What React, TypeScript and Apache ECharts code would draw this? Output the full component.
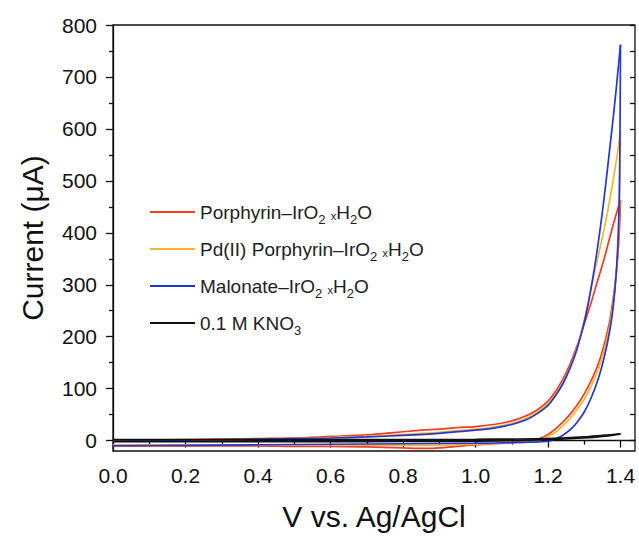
import React, { useEffect, useRef } from "react";
import * as echarts from "echarts";

type Pt = [number, number];

const legendNames = [
  "Porphyrin–IrO2 xH2O",
  "Pd(II) Porphyrin–IrO2 xH2O",
  "Malonate–IrO2 xH2O",
  "0.1 M KNO3",
];
const lineColors = ["#f23c22", "#f5b62c", "#2436d6", "#111111"];

// Cyclic voltammograms, [potential V vs. Ag/AgCl, current µA]
// anodic sweep 0 → 1.4 V
const porphyrinForward: Pt[] = [
  [0, -9], [0.1, -10], [0.2, -10], [0.3, -10], [0.4, -10], [0.5, -11], [0.6, -11],
  [0.7, -12], [0.8, -14], [0.86, -15], [0.9, -14], [0.95, -11], [1.0, -8], [1.05, -6],
  [1.1, -4], [1.15, 0], [1.18, 5], [1.2, 12], [1.22, 22], [1.24, 35], [1.26, 50],
  [1.28, 68], [1.3, 90], [1.32, 117], [1.34, 150], [1.355, 185], [1.37, 230],
  [1.38, 275], [1.388, 320], [1.394, 370], [1.398, 420], [1.4, 463],
];
// cathodic sweep 1.4 → 0 V
const porphyrinReverse: Pt[] = [
  [1.4, 463], [1.385, 428], [1.37, 390], [1.355, 350], [1.34, 315], [1.33, 292],
  [1.32, 268], [1.31, 246], [1.3, 224], [1.28, 182], [1.26, 146], [1.24, 117],
  [1.22, 94], [1.2, 76], [1.17, 59], [1.14, 48], [1.1, 38], [1.05, 31], [1.0, 27],
  [0.95, 25], [0.9, 22], [0.85, 20], [0.8, 17], [0.75, 14], [0.7, 11], [0.6, 8],
  [0.5, 5], [0.4, 4], [0.3, 3], [0.2, 2], [0.1, 1], [0, 0],
];

const pdForward: Pt[] = [
  [0, -8], [0.2, -8], [0.4, -8], [0.6, -8], [0.8, -9], [0.9, -9], [1.0, -7],
  [1.1, -4], [1.15, -2], [1.18, 2], [1.2, 8], [1.22, 16], [1.24, 28], [1.26, 42],
  [1.28, 60], [1.3, 80], [1.32, 106], [1.34, 140], [1.355, 175], [1.37, 220],
  [1.38, 265], [1.388, 320], [1.394, 390], [1.398, 470], [1.4, 595],
];
const pdReverse: Pt[] = [
  [1.4, 595], [1.39, 545], [1.38, 502], [1.37, 462], [1.36, 425], [1.35, 392],
  [1.34, 360], [1.33, 330], [1.32, 298], [1.31, 264], [1.3, 232], [1.28, 178],
  [1.26, 140], [1.24, 110], [1.22, 88], [1.2, 71], [1.17, 54], [1.14, 43],
  [1.1, 33], [1.05, 26], [1.0, 22], [0.9, 16], [0.8, 12], [0.7, 8], [0.6, 6],
  [0.5, 4], [0.4, 3], [0.3, 2], [0.2, 1], [0.1, 0], [0, -1],
];

const malonateForward: Pt[] = [
  [0, -10], [0.2, -9], [0.4, -8], [0.6, -7], [0.8, -6], [1.0, -5], [1.1, -4],
  [1.15, -3], [1.2, -1], [1.22, 3], [1.24, 10], [1.26, 20], [1.28, 35], [1.3, 55],
  [1.32, 84], [1.34, 122], [1.355, 160], [1.37, 210], [1.38, 258], [1.388, 320],
  [1.394, 400], [1.398, 540], [1.4, 762],
];
const malonateReverse: Pt[] = [
  [1.4, 762], [1.39, 690], [1.38, 622], [1.37, 560], [1.36, 498], [1.35, 440],
  [1.34, 388], [1.33, 340], [1.32, 298], [1.31, 260], [1.3, 228], [1.28, 176],
  [1.26, 138], [1.24, 108], [1.22, 86], [1.2, 68], [1.17, 52], [1.14, 40],
  [1.1, 31], [1.05, 24], [1.0, 20], [0.9, 14], [0.8, 10], [0.7, 7], [0.6, 5],
  [0.5, 4], [0.4, 3], [0.3, 2], [0.2, 1], [0.1, 0], [0, -1],
];

const kno3Forward: Pt[] = [
  [0, -2], [0.2, -2], [0.4, -2], [0.6, -2], [0.8, -1.5], [1.0, -1], [1.1, 0],
  [1.2, 2], [1.3, 5], [1.35, 8], [1.4, 13],
];
const kno3Reverse: Pt[] = [
  [1.4, 13], [1.35, 10], [1.3, 7], [1.2, 4], [1.1, 3], [1.0, 2.5], [0.6, 2],
  [0.3, 2], [0, 2],
];

// axis ticks
const xMajorTicks = [0, 0.2, 0.4, 0.6, 0.8, 1.0, 1.2, 1.4];
const xMinorTicks = [0.1, 0.3, 0.5, 0.7, 0.9, 1.1, 1.3];
const yMajorTicks = [0, 100, 200, 300, 400, 500, 600, 700, 800];
const yMinorTicks = [50, 150, 250, 350, 450, 550, 650, 750];
const yAllTicks = [0, 50, 100, 150, 200, 250, 300, 350, 400, 450, 500, 550, 600, 650, 700, 750, 800];

const X_MIN = 0;
const X_MAX = 1.44;
const Y_MIN = -20;
const Y_MAX = 800;

const FONT = "'Liberation Sans', Arial, Helvetica, sans-serif";
const INK = "#111";

const sweeps = [
  { name: legendNames[0], color: lineColors[0], runs: [porphyrinForward, porphyrinReverse] },
  { name: legendNames[1], color: lineColors[1], runs: [pdForward, pdReverse] },
  { name: legendNames[2], color: lineColors[2], runs: [malonateForward, malonateReverse] },
  { name: legendNames[3], color: lineColors[3], runs: [kno3Forward, kno3Reverse] },
];

// chemical formulas with subscripts for the legend
const formulaText = (name: string) =>
  name
    .replace("IrO2", "IrO{sub|2}")
    .replace(" xH2O", " {x|x}H{sub|2}O")
    .replace("NO3", "NO{sub|3}");

function App() {
  const ref = useRef<HTMLDivElement>(null);

  useEffect(() => {
    if (!ref.current) return;
    const chart = echarts.init(ref.current, undefined, { renderer: "svg" });

    const hiddenAxis = {
      axisLine: { show: false },
      axisLabel: { show: false },
      splitLine: { show: false },
    };
    const tickLine = { color: INK, width: 1.3 };

    const series = sweeps.flatMap((s) =>
      s.runs.map((data) => ({
        type: "line",
        name: s.name,
        data,
        xAxisIndex: 0,
        yAxisIndex: 0,
        symbol: "none",
        showSymbol: false,
        smooth: 0.3,
        silent: true,
        lineStyle: { color: s.color, width: 1.7 },
        itemStyle: { color: s.color },
      }))
    );

    chart.setOption({
      animation: false,
      backgroundColor: "#ffffff",
      grid: {
        left: 113,
        right: 4,
        top: 25,
        bottom: 89,
        show: true,
        borderColor: INK,
        borderWidth: 1.3,
        backgroundColor: "transparent",
        containLabel: false,
        outerBoundsMode: "none",
      },
      legend: {
        data: legendNames,
        orient: "vertical",
        left: 150,
        top: 198,
        padding: 0,
        icon: "rect",
        itemWidth: 45,
        itemHeight: 2,
        itemGap: 9,
        selectedMode: false,
        formatter: formulaText,
        textStyle: {
          fontFamily: FONT,
          fontSize: 19,
          lineHeight: 28,
          color: "#222",
          rich: {
            sub: { fontFamily: FONT, fontSize: 13, verticalAlign: "bottom", color: "#222" },
            x: { fontFamily: FONT, fontSize: 11, verticalAlign: "bottom", padding: [0, 0, 5, 0], color: "#222" },
          },
        },
      },
      xAxis: [
        {
          type: "value",
          min: X_MIN,
          max: X_MAX,
          position: "bottom",
          name: "V vs. Ag/AgCl",
          nameLocation: "middle",
          nameGap: 50,
          nameTextStyle: { fontFamily: FONT, fontSize: 30, color: INK },
          axisLine: { show: true, lineStyle: tickLine },
          axisTick: { show: true, inside: false, length: 7, customValues: xMajorTicks, lineStyle: tickLine },
          axisLabel: {
            show: true,
            customValues: xMajorTicks,
            margin: 14,
            fontFamily: FONT,
            fontSize: 21,
            color: INK,
            formatter: (v: number) => v.toFixed(1),
          },
          splitLine: { show: false },
        },
        {
          type: "value",
          min: X_MIN,
          max: X_MAX,
          position: "bottom",
          ...hiddenAxis,
          axisTick: { show: true, inside: false, length: 4, customValues: xMinorTicks, lineStyle: tickLine },
        },
      ],
      yAxis: [
        {
          type: "value",
          min: Y_MIN,
          max: Y_MAX,
          position: "left",
          name: "Current (μA)",
          nameLocation: "middle",
          nameGap: 66,
          nameTextStyle: { fontFamily: FONT, fontSize: 30, color: INK },
          axisLine: { show: true, lineStyle: tickLine },
          axisTick: { show: true, inside: false, length: 7, customValues: yMajorTicks, lineStyle: tickLine },
          axisLabel: {
            show: true,
            customValues: yMajorTicks,
            margin: 16,
            fontFamily: FONT,
            fontSize: 21,
            color: INK,
          },
          splitLine: { show: false },
        },
        {
          type: "value",
          min: Y_MIN,
          max: Y_MAX,
          position: "left",
          ...hiddenAxis,
          axisTick: { show: true, inside: false, length: 4, customValues: yMinorTicks, lineStyle: tickLine },
        },
        {
          type: "value",
          min: Y_MIN,
          max: Y_MAX,
          position: "right",
          ...hiddenAxis,
          axisTick: { show: true, inside: true, length: 5, customValues: yAllTicks, lineStyle: tickLine },
        },
      ],
      series,
    });

    return () => chart.dispose();
  }, []);

  return (
    <div
      ref={ref}
      style={{ position: "fixed", left: 0, top: 0, width: 639, height: 540, background: "#fff" }}
    />
  );
}

export default App;
